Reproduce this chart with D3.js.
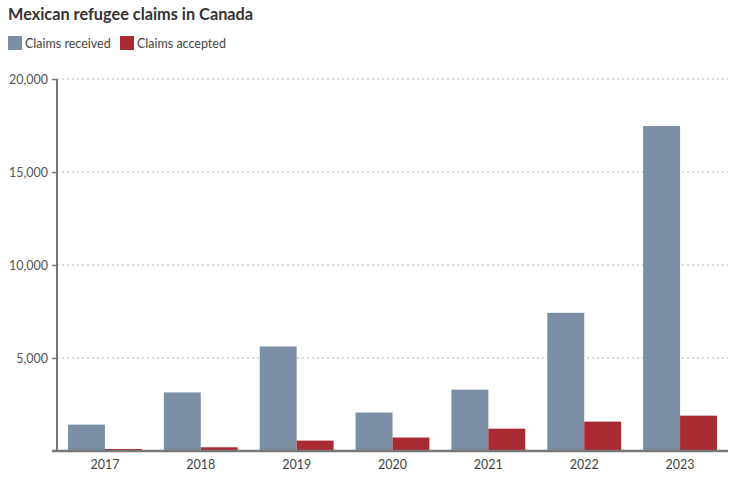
<!DOCTYPE html>
<html>
<head>
<meta charset="utf-8">
<script src="https://cdn.jsdelivr.net/npm/d3@7"></script>
<style>
  body { margin: 0; background: #fff; }
  svg { font-family: Lato, "Noto Sans", sans-serif; }
</style>
</head>
<body>
<div id="chart"></div>
<script>
// data
var years = ["2017", "2018", "2019", "2020", "2021", "2022", "2023"];
var received = [1420, 3150, 5620, 2070, 3300, 7430, 17470];
var accepted = [110, 200, 560, 725, 1200, 1580, 1900];
var seriesNames = ["Claims received", "Claims accepted"];
var yTicks = [0, 5000, 10000, 15000, 20000];

var colors = ["#7b8ea3", "#a82a32"];

var width = 736, height = 486;
var margin = { top: 79, right: 8, bottom: 35, left: 57 };

var svg = d3.select("#chart").append("svg")
  .attr("width", width)
  .attr("height", height);

// title
svg.append("text")
  .attr("x", 8)
  .attr("y", 20)
  .style("font-size", "16.3px")
  .style("font-weight", "bold")
  .style("fill", "#333")
  .text("Mexican refugee claims in Canada");

// legend
var legendX = [8, 120];
seriesNames.forEach(function(name, i) {
  svg.append("rect")
    .attr("x", legendX[i])
    .attr("y", 36)
    .attr("width", 14)
    .attr("height", 14)
    .style("fill", colors[i]);
  svg.append("text")
    .attr("x", legendX[i] + 17)
    .attr("y", 48)
    .style("font-size", "12.5px")
    .style("fill", "#444")
    .text(name);
});

var x0 = d3.scaleBand()
  .domain(years)
  .range([margin.left, width - margin.right])
  .paddingInner(0.23)
  .paddingOuter(0.115);

var x1 = d3.scaleBand()
  .domain([0, 1])
  .range([0, x0.bandwidth()]);

var y = d3.scaleLinear()
  .domain([0, 20000])
  .range([height - margin.bottom, margin.top]);

// dotted gridlines
svg.append("g")
  .selectAll("line")
  .data(yTicks.filter(function(d) { return d > 0; }))
  .enter()
  .append("line")
  .attr("x1", margin.left)
  .attr("x2", width - margin.right)
  .attr("y1", function(d) { return y(d); })
  .attr("y2", function(d) { return y(d); })
  .style("stroke", "#b5b5b5")
  .style("stroke-width", 1)
  .style("stroke-dasharray", "2,3");

// bars
var rows = years.map(function(yr, i) {
  return { year: yr, values: [received[i], accepted[i]] };
});

var groups = svg.append("g")
  .selectAll("g")
  .data(rows)
  .enter()
  .append("g")
  .attr("transform", function(d) { return "translate(" + x0(d.year) + ",0)"; });

groups.selectAll("rect")
  .data(function(d) { return d.values.map(function(v, k) { return { k: k, v: v }; }); })
  .enter()
  .append("rect")
  .attr("x", function(d) { return x1(d.k); })
  .attr("y", function(d) { return y(d.v); })
  .attr("width", x1.bandwidth())
  .attr("height", function(d) { return y(0) - y(d.v); })
  .style("fill", function(d) { return colors[d.k]; });

// y axis
var yAxis = d3.axisLeft(y)
  .tickValues(yTicks.filter(function(d) { return d > 0; }))
  .tickSize(5)
  .tickPadding(4)
  .tickFormat(d3.format(","));

var gy = svg.append("g")
  .attr("transform", "translate(" + margin.left + ",0)")
  .call(yAxis);
gy.select(".domain").remove();
gy.append("line")
  .attr("x1", 0).attr("x2", 0)
  .attr("y1", y(20000)).attr("y2", y(0))
  .style("stroke", "#777")
  .style("stroke-width", 2);
gy.selectAll(".tick line").style("stroke", "#777").style("stroke-width", 1.5);
gy.selectAll(".tick text")
  .style("font-family", "Lato, 'Noto Sans', sans-serif")
  .style("font-size", "12.5px")
  .style("fill", "#555");

// x axis
var xAxis = d3.axisBottom(x0).tickSize(0).tickPadding(9);
var gx = svg.append("g")
  .attr("transform", "translate(0," + y(0) + ")")
  .call(xAxis);
gx.select(".domain").remove();
gx.append("line")
  .attr("x1", 52).attr("x2", width - margin.right)
  .attr("y1", 0).attr("y2", 0)
  .style("stroke", "#777")
  .style("stroke-width", 2.5);
gx.selectAll(".tick text")
  .style("font-family", "Lato, 'Noto Sans', sans-serif")
  .style("font-size", "12.5px")
  .style("fill", "#444");
</script>
</body>
</html>
